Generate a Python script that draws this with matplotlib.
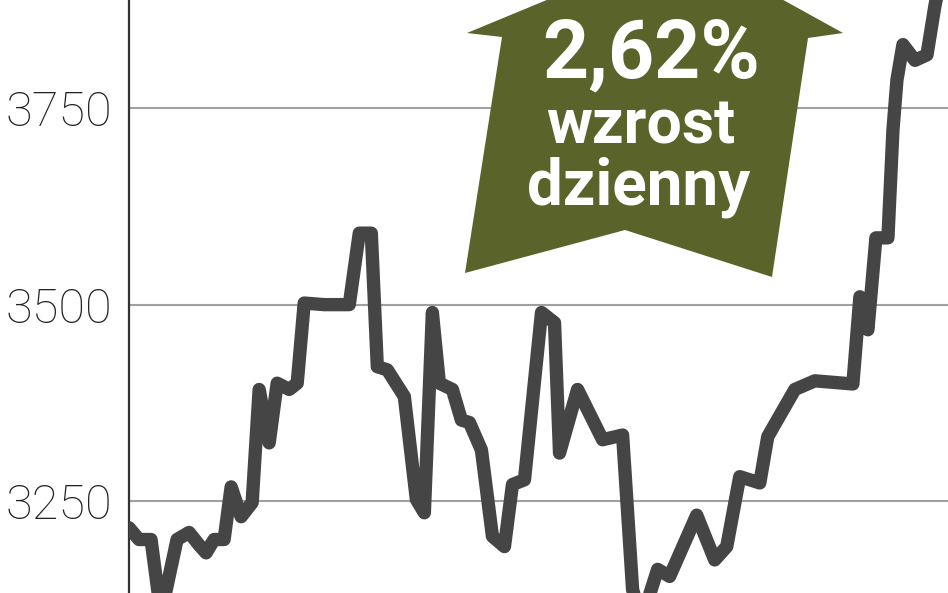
import matplotlib
matplotlib.use("Agg")
import matplotlib.pyplot as plt
from matplotlib.patches import Polygon

# time position (arbitrary trading-day axis units) and index values
x_pos = [0, 10, 22, 30, 35, 48, 60, 70, 77, 85, 95, 102, 112, 123, 130, 140, 148,
         160, 168, 175, 195, 220, 230, 242, 248, 258, 275, 287, 295, 303, 310,
         323, 332, 340, 352, 363, 375, 383, 395, 412, 425, 430, 448, 473, 493,
         503, 512, 528, 540, 567, 585, 597, 610, 630, 638, 665, 685, 723, 730,
         738, 746, 758, 763, 767, 773, 785, 797, 805, 815]
values = [3216, 3201, 3201, 3124, 3124, 3201, 3210, 3194, 3184, 3201, 3201, 3268,
          3230, 3248, 3392, 3324, 3400, 3392, 3400, 3502, 3500, 3500, 3591, 3591,
          3421, 3417, 3383, 3252, 3235, 3490, 3400, 3392, 3353, 3350, 3315, 3205,
          3192, 3271, 3277, 3490, 3477, 3311, 3392, 3328, 3334, 3137, 3099, 3163,
          3154, 3232, 3175, 3192, 3281, 3273, 3332, 3392, 3403, 3399, 3510, 3468,
          3585, 3585, 3722, 3786, 3831, 3811, 3818, 3881, 3940]
y_ticks = [3250, 3500, 3750]
tick_labels = ["3250", "3500", "3750"]
badge_lines = ["2,62%", "wzrost", "dzienny"]

W, H = 948, 593
fig = plt.figure(figsize=(W / 100, H / 100), dpi=100)
ax = fig.add_axes([129 / W, 0, 1 - 129 / W, 1])
ax.set_xlim(0, 818)
ax.set_ylim(3132.9, 3887.8)

ax.set_yticks(y_ticks)
ax.set_yticklabels(tick_labels, fontfamily="Roboto", fontweight="light",
                   fontsize=35, color="#222222")
ax.tick_params(axis="y", length=0, pad=12)
ax.set_xticks([])
for s in ["top", "right", "bottom"]:
    ax.spines[s].set_visible(False)
ax.spines["left"].set_color("#333333")
ax.spines["left"].set_linewidth(1.6)
ax.grid(axis="y", color="#a0a0a0", linewidth=1.5)
ax.set_axisbelow(True)

ax.plot(x_pos, values, color="#454545", linewidth=9.6,
        solid_joinstyle="round", solid_capstyle="round", zorder=3)

# arrow badge (figure pixel coordinates, image y downward)
pts = [(682, -56), (843, 33), (808, 38), (772, 277), (625, 230),
       (465, 273), (502, 37), (467, 33)]
poly = Polygon([(px / W, 1 - py / H) for px, py in pts], closed=True,
               transform=fig.transFigure, facecolor="#5a6329",
               edgecolor="none", zorder=5)
fig.patches.append(poly)

def fy(py):
    return 1 - py / H

fig.text(651 / W, fy(78), badge_lines[0], fontfamily="Roboto", fontweight="bold",
         fontsize=58, color="white", ha="center", va="baseline", zorder=6)
fig.text(641 / W, fy(143), badge_lines[1], fontfamily="Roboto", fontweight="bold",
         fontsize=45, color="white", ha="center", va="baseline", zorder=6)
fig.text(639 / W, fy(205), badge_lines[2], fontfamily="Roboto", fontweight="bold",
         fontsize=46, color="white", ha="center", va="baseline", zorder=6)

fig.savefig("out.png", dpi=100)
